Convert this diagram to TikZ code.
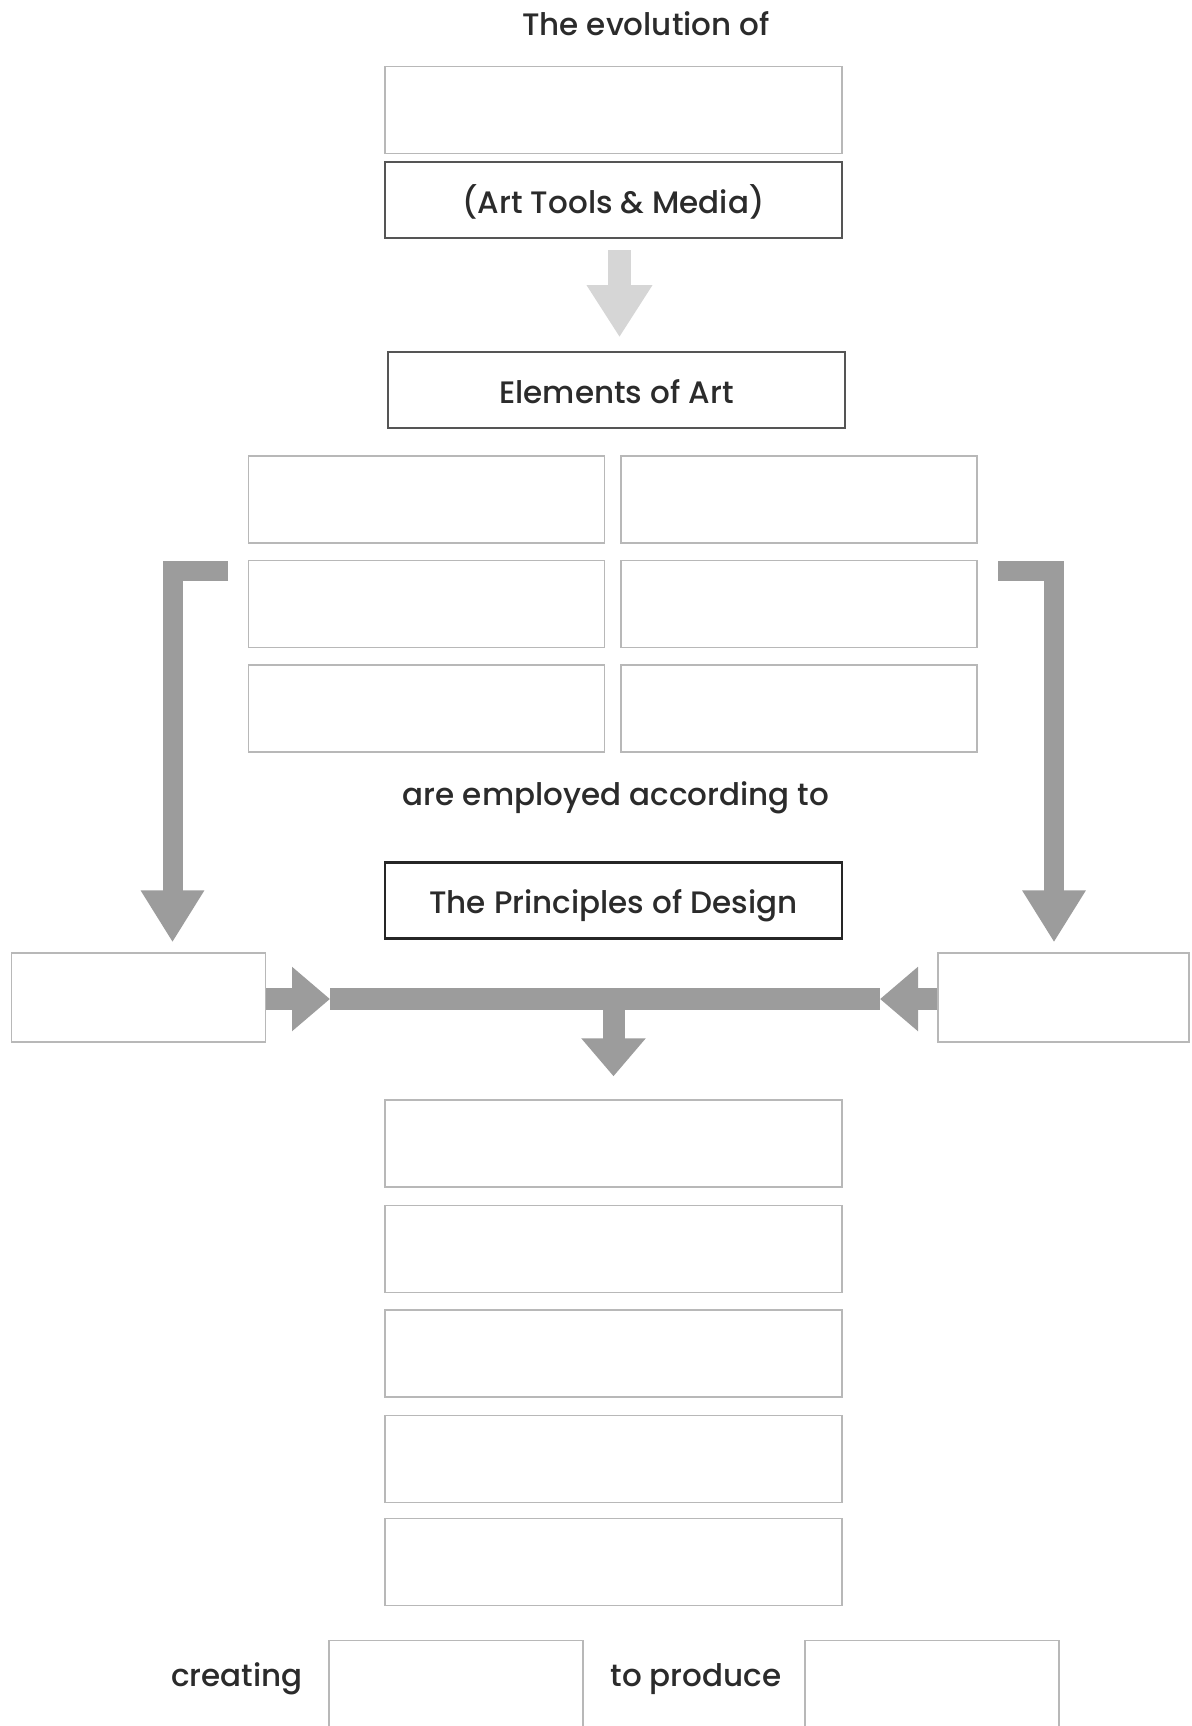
\documentclass[tikz,border=0pt]{standalone}
\usepackage{fontspec}
\setmainfont{Poppins}[UprightFont={* Medium}]
\usetikzlibrary{arrows.meta, positioning, calc}
\definecolor{artink}{HTML}{2B2B2B}
\definecolor{artline}{HTML}{B8B8B8}
\definecolor{artframe}{HTML}{555555}
\definecolor{artdark}{HTML}{262626}
\definecolor{artarrow}{HTML}{9C9C9C}
\definecolor{artfaint}{HTML}{D6D6D6}
\tikzset{
  blank/.style={rectangle, draw=artline, line width=0.7pt, minimum width=228.5pt,
    minimum height=43.5pt, inner sep=0pt},
  cell/.style={blank, minimum width=178pt},
  side/.style={blank, minimum width=127pt, minimum height=44.5pt},
  title/.style={rectangle, draw=artframe, line width=1pt, minimum width=228.5pt,
    minimum height=38pt, inner sep=0pt, text height=13pt, text depth=0pt,
    font=\fontsize{15.5}{18}\selectfont, text=artink},
  caption/.style={anchor=base, font=\fontsize{15.5}{18}\selectfont, text=artink},
  fatbar/.style={line width=11pt, artarrow},
  fatarr/.style={-{Triangle[width=31pt,length=19pt]}, line width=11pt, artarrow},
  lbar/.style={-{Triangle[width=30pt,length=26pt]}, line width=10pt, artarrow, line join=miter},
}

\begin{document}
\begin{tikzpicture}[x=0.5pt, y=-0.5pt]
    \useasboundingbox[fill=white] (0,0) rectangle (1191,1726);
    % Media
    \node[caption] (evo) at (646,35) {The evolution of};
    \node[blank] (media) at (613.5,110) {};
    \node[title, below=3.5pt of media] (tools) {(Art Tools \& Media)};
    % Elements
    \node[title, below=56pt of tools, xshift=1.5pt] (elem) {Elements of Art};
    \draw[fatarr, artfaint, line width=11.5pt, shorten <=5.5pt, shorten >=7pt,
      -{Triangle[width=31pt,length=26pt]}] ([xshift=3pt]tools.south) -- ([xshift=1.5pt]elem.north);
    % Element cells
    \node[cell] (e1) at (426.5,499.5) {};
    \node[cell, below=8pt of e1] (e3) {};
    \node[cell, below=8pt of e3] (e5) {};
    \node[cell] (e2) at (799,499.5) {};
    \node[cell, below=8pt of e2] (e4) {};
    \node[cell, below=8pt of e4] (e6) {};
    % Principles
    \node[caption] (employed) at (616,805) {are employed according to};
    \node[title, draw=artdark, line width=1.4pt] (prin) at (613.5,900.5) {The Principles of Design};
    % Side boxes
    \node[side] (lbox) at (138.5,997.5) {};
    \node[side, minimum width=125.5pt] (rbox) at (1063.5,997.5) {};
    \coordinate (lstart) at (228,570.5);
    \coordinate (lbend) at (172.5,570.5);
    \coordinate (rstart) at (998,570.5);
    \coordinate (rbend) at (1054,570.5);
    \draw[lbar, shorten >=5pt] (lstart) -- (lbend) -- (lbend |- lbox.north);
    \draw[lbar, shorten >=5pt] (rstart) -- (rbend) -- (rbend |- rbox.north);
    % Junction bar
    \coordinate (lhead) at (330,999);
    \coordinate (rhead) at (880,999);
    \coordinate (hub) at (613.5,999);
    \draw[fatbar] (lhead) -- (rhead);
    \draw[fatarr] (lbox.east |- hub) -- (lhead);
    \draw[fatarr] (rbox.west |- hub) -- (rhead);
    % Outcomes
    \node[blank] (o1) at (613.5,1143.5) {};
    \node[blank, below=8.5pt of o1] (o2) {};
    \node[blank, below=8pt of o2] (o3) {};
    \node[blank, below=8.5pt of o3] (o4) {};
    \node[blank, below=7.5pt of o4] (o5) {};
    \draw[fatarr, shorten >=11.5pt] (hub) -- (o1.north);
    % Result
    \node[caption] (creating) at (237,1686) {creating};
    \node[blank, minimum width=127pt, minimum height=50pt, anchor=north] (made) at (456,1640) {};
    \node[caption] (produce) at (696,1686) {to produce};
    \node[blank, minimum width=127pt, minimum height=50pt, anchor=north] (result) at (932,1640) {};
  \end{tikzpicture}
\end{document}
